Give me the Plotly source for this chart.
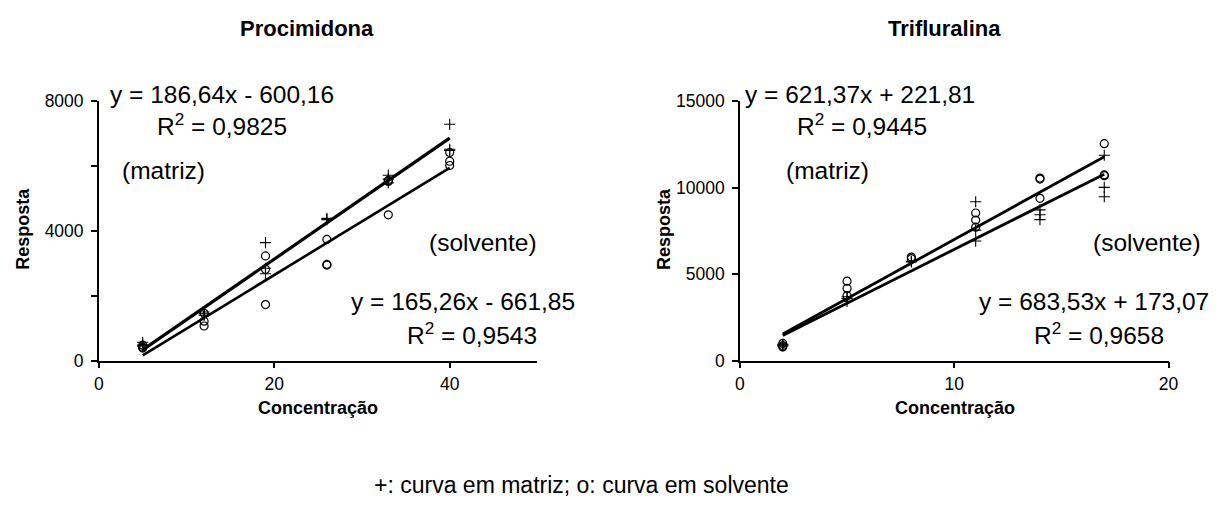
import plotly.graph_objects as go

W, H = 1225, 511
FONT = "Liberation Sans, Arial, sans-serif"

# Procimidona: concentrations (triplicates) and responses
proc_conc_matriz = [5, 5, 5, 12, 12, 12, 19, 19, 19, 26, 26, 33, 33, 33, 40, 40, 40]
proc_resp_matriz = [570, 480, 450, 1450, 1400, 1500, 3640, 2680, 2850, 4390, 4350,
                    5720, 5480, 5600, 7290, 6520, 6480]
proc_conc_solv = [5, 5, 5, 12, 12, 12, 19, 19, 19, 26, 26, 26, 33, 33, 33, 40, 40, 40]
proc_resp_solv = [480, 420, 390, 1460, 1220, 1070, 3230, 2820, 1730, 3740, 2970, 2950,
                  5530, 5560, 4500, 6420, 6150, 6020]

# Trifluralina: concentrations (triplicates) and responses
trif_conc_matriz = [2, 2, 2, 5, 5, 5, 8, 8, 11, 11, 11, 14, 14, 14, 17, 17, 17]
trif_resp_matriz = [950, 900, 850, 3430, 3600, 3700, 5710, 5750, 9190, 7550, 6920,
                    8720, 8440, 8160, 11880, 10020, 9480]
trif_conc_solv = [2, 2, 2, 5, 5, 5, 8, 8, 11, 11, 11, 14, 14, 14, 17, 17, 17]
trif_resp_solv = [1000, 880, 800, 4600, 4180, 3760, 5990, 5900, 8540, 8130, 7720,
                  10560, 10500, 9390, 12550, 10740, 10700]

# Fitted calibration lines: (slope, intercept, r2)
proc_fit_matriz = (186.64, -600.16, 0.9825)
proc_fit_solv = (165.26, -661.85, 0.9543)
trif_fit_matriz = (621.37, 221.81, 0.9445)
trif_fit_solv = (683.53, 173.07, 0.9658)

# Axis ranges / ticks
proc_x_range, proc_x_ticks = [0, 50], [0, 20, 40]
proc_y_range, proc_y_ticks = [0, 8000], [0, 4000, 8000]
trif_x_range, trif_x_ticks = [0, 20], [0, 10, 20]
trif_y_range, trif_y_ticks = [0, 15000], [0, 5000, 10000, 15000]


def px(x):
    return x / W


def py(y):
    return 1 - y / H


def fmt(v):
    return f"{abs(v):.2f}".replace(".", ",")


def eq_text(fit):
    a, b, _ = fit
    sign = "+" if b >= 0 else "-"
    return f"y = {fmt(a)}x {sign} {fmt(b)}"


def r2_text(fit):
    return f"R<sup>2</sup> = {fit[2]:.4f}".replace(".", ",")


fig = go.Figure()

plus_marker = dict(symbol="cross-thin", size=8, color="black",
                   line=dict(color="black", width=1.1))
circ_marker = dict(symbol="circle-open", size=8, color="black",
                   line=dict(color="black", width=1.2))


def add_panel(xa, ya, cm, rm, cs, rs, fit_m, fit_s, wm, ws):
    fig.add_trace(go.Scatter(x=cm, y=rm, mode="markers", marker=plus_marker,
                             xaxis=xa, yaxis=ya, showlegend=False))
    fig.add_trace(go.Scatter(x=cs, y=rs, mode="markers", marker=circ_marker,
                             xaxis=xa, yaxis=ya, showlegend=False))
    for fit, conc, w in ((fit_m, cm, wm), (fit_s, cs, ws)):
        x0, x1 = min(conc), max(conc)
        a, b, _ = fit
        fig.add_trace(go.Scatter(x=[x0, x1], y=[a * x0 + b, a * x1 + b], mode="lines",
                                 line=dict(color="black", width=w),
                                 xaxis=xa, yaxis=ya, showlegend=False))


add_panel("x", "y", proc_conc_matriz, proc_resp_matriz, proc_conc_solv, proc_resp_solv,
          proc_fit_matriz, proc_fit_solv, 3.2, 2.6)
add_panel("x2", "y2", trif_conc_matriz, trif_resp_matriz, trif_conc_solv, trif_resp_solv,
          trif_fit_matriz, trif_fit_solv, 2.8, 2.8)

axis_common = dict(showline=True, linecolor="black", linewidth=1.5, ticks="outside",
                   ticklen=6, tickwidth=1.5, tickcolor="black", showgrid=False,
                   zeroline=False, tickformat="d",
                   tickfont=dict(family=FONT, size=17.5, color="black"))

y_dom = [py(365), py(95)]

fig.update_layout(
    width=W, height=H, margin=dict(l=0, r=0, t=0, b=0),
    paper_bgcolor="white", plot_bgcolor="white",
    xaxis=dict(domain=[px(95), px(539)], range=proc_x_range, tickvals=proc_x_ticks,
               anchor="y", ticklabelstandoff=1, **axis_common),
    yaxis=dict(domain=y_dom, range=proc_y_range, tickvals=proc_y_ticks, anchor="x",
               minor=dict(ticks="outside", ticklen=6, tickwidth=1.5, tickcolor="black",
                          dtick=2000, tick0=0),
               ticklabelstandoff=4, **axis_common),
    xaxis2=dict(domain=[px(744), px(1178)], range=trif_x_range, tickvals=trif_x_ticks,
                anchor="y2", ticklabelstandoff=1, **axis_common),
    yaxis2=dict(domain=y_dom, range=trif_y_range, tickvals=trif_y_ticks, anchor="x2",
                ticklabelstandoff=4, **axis_common),
)

ann = []


def text(x, y, s, size=24.5, bold=False, angle=0):
    ann.append(dict(x=px(x), y=py(y), xref="paper", yref="paper", text=s,
                    showarrow=False, xanchor="center", yanchor="middle", textangle=angle,
                    font=dict(family=FONT, size=size, color="black",
                              weight="bold" if bold else "normal")))


# Titles
text(306, 19, "Procimidona", size=22, bold=True)
text(951, 19, "Trifluralina", size=22, bold=True)

# Axis titles
text(18, 228, "Resposta", size=18, bold=True, angle=-90)
text(667, 228, "Resposta", size=18, bold=True, angle=-90)
text(317, 414, "Concentração", size=18, bold=True)
text(962, 414, "Concentração", size=18, bold=True)

# Equations - Procimidona
text(220, 88, eq_text(proc_fit_matriz))
text(220, 119, r2_text(proc_fit_matriz))
text(160, 167, "(matriz)")
text(484, 242, "(solvente)")
text(464, 303, eq_text(proc_fit_solv))
text(473, 337, r2_text(proc_fit_solv))

# Equations - Trifluralina
text(866, 88, eq_text(trif_fit_matriz))
text(868, 119, r2_text(trif_fit_matriz))
text(833, 167, "(matriz)")
text(1156, 242, "(solvente)")
text(1103, 303, eq_text(trif_fit_solv))
text(1108, 337, r2_text(trif_fit_solv))

# Key
text(584, 494, "+: curva em matriz; o: curva em solvente", size=23)

fig.update_layout(annotations=ann)
fig.write_html("out.html")
